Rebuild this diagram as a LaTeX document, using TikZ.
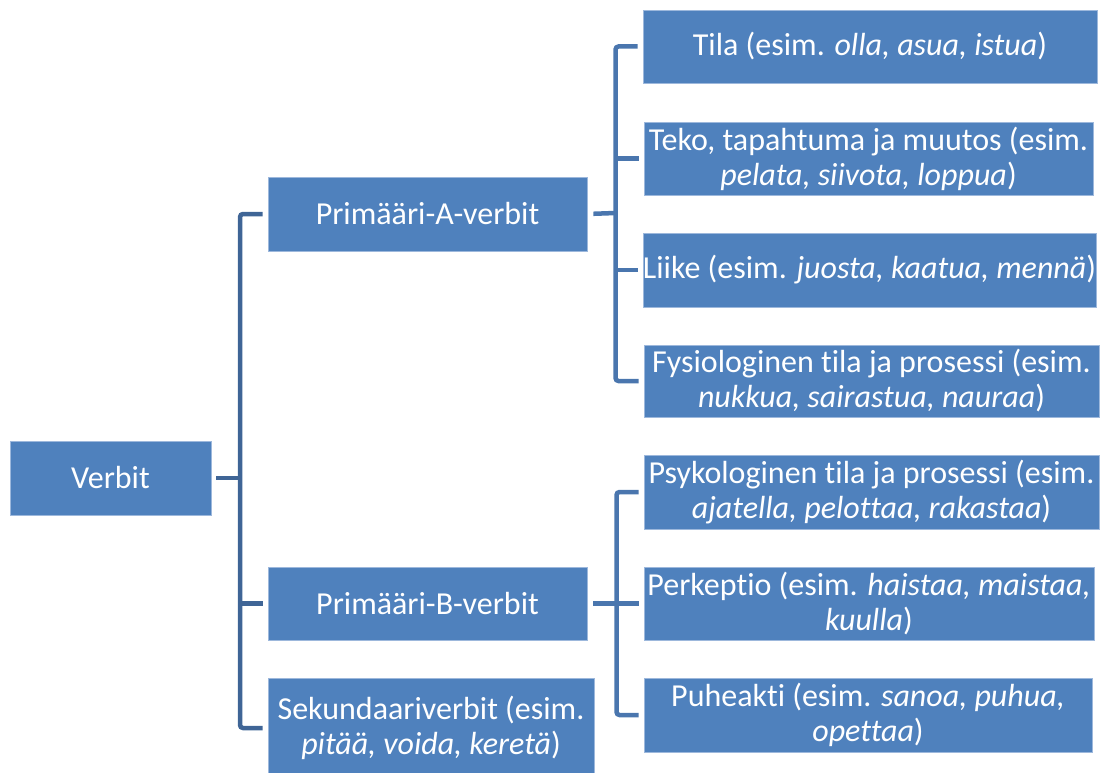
\documentclass[tikz,border=0pt]{standalone}
\usepackage{fontspec}
\setmainfont{Carlito}[Ligatures={NoCommon}]
\definecolor{boxblue}{HTML}{4F81BD}
\definecolor{boxedge}{HTML}{9DB8DC}
\definecolor{lineL}{HTML}{3F6596}
\definecolor{lineR}{HTML}{4A76AE}
\tikzset{
  box/.style={rectangle, fill=boxblue, draw=boxedge, line width=0.8pt, text=white,
    inner sep=0pt, align=center, font=\fontsize{32}{35}\selectfont},
  conn/.style={line width=4.5pt, rounded corners=3pt},
}
\begin{document}
\begin{tikzpicture}[x=1pt,y=-1pt]
\useasboundingbox (0,0) rectangle (1102,773);
% boxes
\node[box, minimum width=201pt, minimum height=74pt] (verbit) at (110.5,478) {Verbit};
\node[box, minimum width=319pt, minimum height=74pt] (pa) at (427.5,214) {Primääri-A-verbit};
\node[box, minimum width=319pt, minimum height=73pt] (pb) at (427.5,603.5) {Primääri-B-verbit};
\node[box, minimum width=326pt, minimum height=100pt] (sek) at (431,728) {Sekundaariverbit (esim.\\ \textit{pitää, voida, keretä})};
\node[box, minimum width=454pt, minimum height=73pt] (tila) at (870,46.5) {Tila (esim. \textit{olla, asua, istua})};
\node[box, minimum width=449pt, minimum height=73pt] (teko) at (868.5,158.5) {Teko, tapahtuma ja muutos (esim.\\ \textit{pelata, siivota, loppua})};
\node[box, minimum width=451pt, minimum height=74pt] (liike) at (869.5,270) {Liike (esim. \textit{juosta, kaatua, mennä})};
\node[box, minimum width=455pt, minimum height=72pt] (fysio) at (871.5,381) {Fysiologinen tila ja prosessi (esim.\\ \textit{nukkua, sairastua, nauraa})};
\node[box, minimum width=455pt, minimum height=74pt] (psyko) at (871.5,492) {Psykologinen tila ja prosessi (esim.\\ \textit{ajatella, pelottaa, rakastaa})};
\node[box, minimum width=450pt, minimum height=73pt] (perk) at (869,603.5) {Perkeptio (esim. \textit{haistaa, maistaa,}\\ \textit{kuulla})};
\node[box, minimum width=448pt, minimum height=74pt] (puhe) at (868,715) {Puheakti (esim. \textit{sanoa, puhua,}\\ \textit{opettaa})};
% junctions
\coordinate (jL) at (240,478);
\coordinate (jA) at (615.5,213);
\coordinate (jB) at (616.5,603.5);
% left tree
\draw[conn, lineL, shorten <=5pt] (verbit.east) -- (jL);
\draw[conn, lineL, shorten <=5pt, shorten >=5pt] (pa.west) -| (jL) |- (sek.west);
\draw[conn, lineL, shorten >=5pt] (jL |- pb.west) -- (pb.west);
% right tree A
\draw[conn, lineR, shorten <=6pt] (pa.east) -- (jA);
\draw[conn, lineR, shorten <=5pt, shorten >=5pt] (tila.west) -| (jA) |- (fysio.west);
\draw[conn, lineR, shorten >=5pt] (jA |- teko.west) -- (teko.west);
\draw[conn, lineR, shorten >=5pt] (jA |- liike.west) -- (liike.west);
% right tree B
\draw[conn, lineR, shorten <=6pt] (pb.east) -- (jB);
\draw[conn, lineR, shorten <=5pt, shorten >=5pt] (psyko.west) -| (jB) |- (puhe.west);
\draw[conn, lineR, shorten >=5pt] (jB |- perk.west) -- (perk.west);
\end{tikzpicture}
\end{document}
